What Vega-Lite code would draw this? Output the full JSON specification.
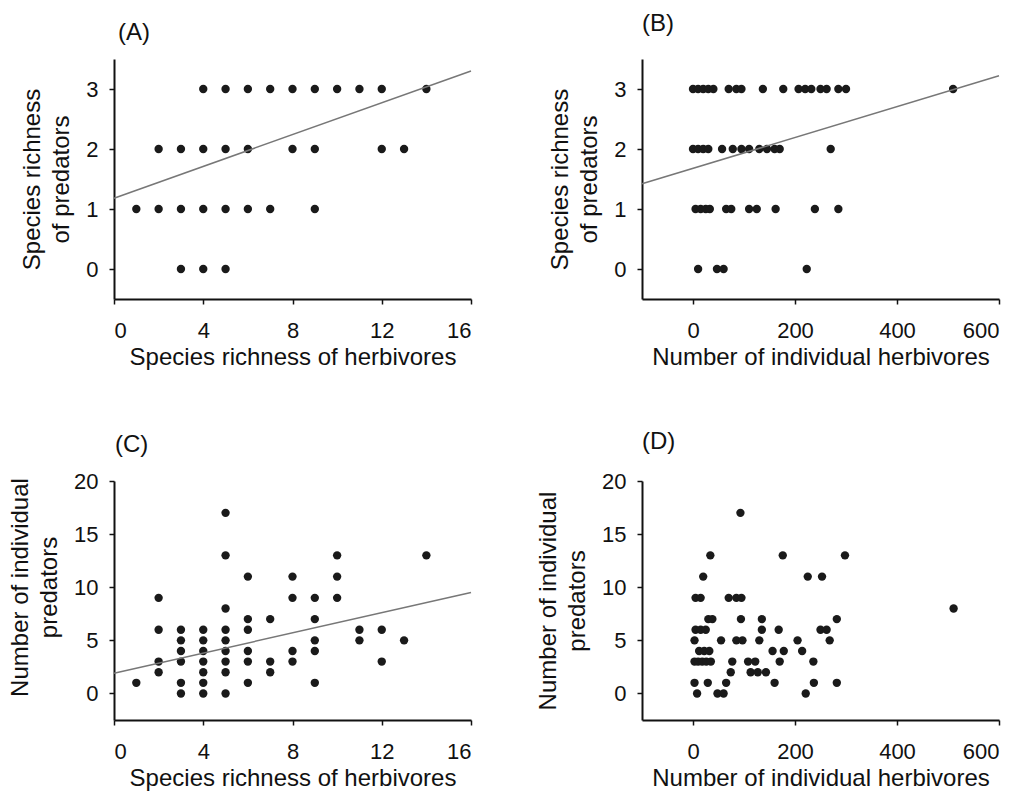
{
  "$schema": "https://vega.github.io/schema/vega-lite/v6.json",
  "padding": {"left": 8, "top": 12, "right": 5, "bottom": 5},
  "background": "white",
  "config": {
    "view": {"stroke": null},
    "font": "Liberation Sans",
    "axis": {
      "grid": false,
      "domainColor": "#111",
      "domainWidth": 2,
      "tickColor": "#111",
      "tickWidth": 1.5,
      "tickSize": 5,
      "labelFont": "Liberation Sans",
      "labelFontSize": 22,
      "labelColor": "#111",
      "titleFont": "Liberation Sans",
      "titleFontSize": 24,
      "titleFontWeight": "normal",
      "titleColor": "#111",
      "titleLineHeight": 29,
      "format": "d"
    },
    "axisX": {"labelPadding": 16, "titlePadding": 4},
    "axisY": {"labelPadding": 11, "titlePadding": 12},
    "title": {"font": "Liberation Sans", "fontSize": 24, "fontWeight": "normal", "color": "#111", "anchor": "start", "frame": "group"}
  },
  "datasets": {
    "a": [
      {"x": 4, "y": 3}, {"x": 5, "y": 3}, {"x": 6, "y": 3}, {"x": 7, "y": 3}, {"x": 8, "y": 3}, {"x": 9, "y": 3}, {"x": 10, "y": 3}, {"x": 11, "y": 3}, {"x": 12, "y": 3}, {"x": 14, "y": 3},
      {"x": 2, "y": 2}, {"x": 3, "y": 2}, {"x": 4, "y": 2}, {"x": 5, "y": 2}, {"x": 6, "y": 2}, {"x": 8, "y": 2}, {"x": 9, "y": 2}, {"x": 12, "y": 2}, {"x": 13, "y": 2},
      {"x": 1, "y": 1}, {"x": 2, "y": 1}, {"x": 3, "y": 1}, {"x": 4, "y": 1}, {"x": 5, "y": 1}, {"x": 6, "y": 1}, {"x": 7, "y": 1}, {"x": 9, "y": 1},
      {"x": 3, "y": 0}, {"x": 4, "y": 0}, {"x": 5, "y": 0}
    ],
    "aLine": [{"x": 0, "y": 1.18}, {"x": 16, "y": 3.3}],
    "b": [
      {"x": 0, "y": 3}, {"x": 10, "y": 3}, {"x": 20, "y": 3}, {"x": 30, "y": 3}, {"x": 40, "y": 3}, {"x": 70, "y": 3}, {"x": 85, "y": 3}, {"x": 95, "y": 3}, {"x": 137, "y": 3}, {"x": 177, "y": 3}, {"x": 207, "y": 3}, {"x": 220, "y": 3}, {"x": 232, "y": 3}, {"x": 250, "y": 3}, {"x": 262, "y": 3}, {"x": 285, "y": 3}, {"x": 300, "y": 3}, {"x": 510, "y": 3},
      {"x": 0, "y": 2}, {"x": 10, "y": 2}, {"x": 20, "y": 2}, {"x": 30, "y": 2}, {"x": 57, "y": 2}, {"x": 78, "y": 2}, {"x": 95, "y": 2}, {"x": 110, "y": 2}, {"x": 130, "y": 2}, {"x": 145, "y": 2}, {"x": 160, "y": 2}, {"x": 170, "y": 2}, {"x": 270, "y": 2},
      {"x": 5, "y": 1}, {"x": 15, "y": 1}, {"x": 25, "y": 1}, {"x": 33, "y": 1}, {"x": 65, "y": 1}, {"x": 75, "y": 1}, {"x": 110, "y": 1}, {"x": 125, "y": 1}, {"x": 162, "y": 1}, {"x": 239, "y": 1}, {"x": 285, "y": 1},
      {"x": 10, "y": 0}, {"x": 47, "y": 0}, {"x": 60, "y": 0}, {"x": 223, "y": 0}
    ],
    "bLine": [{"x": -100, "y": 1.42}, {"x": 600, "y": 3.22}],
    "c": [
      {"x": 1, "y": 1},
      {"x": 2, "y": 9}, {"x": 2, "y": 6}, {"x": 2, "y": 3}, {"x": 2, "y": 2},
      {"x": 3, "y": 6}, {"x": 3, "y": 5}, {"x": 3, "y": 4}, {"x": 3, "y": 3}, {"x": 3, "y": 1}, {"x": 3, "y": 0},
      {"x": 4, "y": 6}, {"x": 4, "y": 5}, {"x": 4, "y": 4}, {"x": 4, "y": 3}, {"x": 4, "y": 2}, {"x": 4, "y": 1}, {"x": 4, "y": 0},
      {"x": 5, "y": 17}, {"x": 5, "y": 13}, {"x": 5, "y": 8}, {"x": 5, "y": 6}, {"x": 5, "y": 5}, {"x": 5, "y": 4}, {"x": 5, "y": 3}, {"x": 5, "y": 2}, {"x": 5, "y": 0},
      {"x": 6, "y": 11}, {"x": 6, "y": 7}, {"x": 6, "y": 6}, {"x": 6, "y": 4}, {"x": 6, "y": 3}, {"x": 6, "y": 1},
      {"x": 7, "y": 7}, {"x": 7, "y": 3}, {"x": 7, "y": 2},
      {"x": 8, "y": 11}, {"x": 8, "y": 9}, {"x": 8, "y": 4}, {"x": 8, "y": 3},
      {"x": 9, "y": 9}, {"x": 9, "y": 7}, {"x": 9, "y": 5}, {"x": 9, "y": 4}, {"x": 9, "y": 1},
      {"x": 10, "y": 13}, {"x": 10, "y": 11}, {"x": 10, "y": 9},
      {"x": 11, "y": 6}, {"x": 11, "y": 5},
      {"x": 12, "y": 6}, {"x": 12, "y": 3},
      {"x": 13, "y": 5},
      {"x": 14, "y": 13}
    ],
    "cLine": [{"x": 0, "y": 1.9}, {"x": 16, "y": 9.5}],
    "d": [
      {"x": 93, "y": 17},
      {"x": 34, "y": 13}, {"x": 176, "y": 13}, {"x": 298, "y": 13},
      {"x": 20, "y": 11}, {"x": 225, "y": 11}, {"x": 253, "y": 11},
      {"x": 5, "y": 9}, {"x": 15, "y": 9}, {"x": 70, "y": 9}, {"x": 85, "y": 9}, {"x": 95, "y": 9},
      {"x": 511, "y": 8},
      {"x": 30, "y": 7}, {"x": 38, "y": 7}, {"x": 94, "y": 7}, {"x": 135, "y": 7}, {"x": 282, "y": 7},
      {"x": 5, "y": 6}, {"x": 15, "y": 6}, {"x": 25, "y": 6}, {"x": 135, "y": 6}, {"x": 168, "y": 6}, {"x": 250, "y": 6}, {"x": 262, "y": 6},
      {"x": 3, "y": 5}, {"x": 55, "y": 5}, {"x": 85, "y": 5}, {"x": 97, "y": 5}, {"x": 130, "y": 5}, {"x": 205, "y": 5}, {"x": 268, "y": 5},
      {"x": 12, "y": 4}, {"x": 22, "y": 4}, {"x": 32, "y": 4}, {"x": 156, "y": 4}, {"x": 178, "y": 4}, {"x": 214, "y": 4},
      {"x": 3, "y": 3}, {"x": 10, "y": 3}, {"x": 18, "y": 3}, {"x": 26, "y": 3}, {"x": 35, "y": 3}, {"x": 77, "y": 3}, {"x": 108, "y": 3}, {"x": 122, "y": 3}, {"x": 170, "y": 3}, {"x": 236, "y": 3},
      {"x": 74, "y": 2}, {"x": 113, "y": 2}, {"x": 127, "y": 2}, {"x": 143, "y": 2},
      {"x": 3, "y": 1}, {"x": 29, "y": 1}, {"x": 65, "y": 1}, {"x": 160, "y": 1}, {"x": 237, "y": 1}, {"x": 282, "y": 1},
      {"x": 8, "y": 0}, {"x": 48, "y": 0}, {"x": 60, "y": 0}, {"x": 221, "y": 0}
    ]
  },
  "columns": 2,
  "bounds": "flush",
  "spacing": {"row": 182, "column": 171},
  "concat": [
    {
      "width": 357, "height": 240,
      "title": {"text": "(A)", "offset": 14, "dx": 4},
      "layer": [
        {
          "data": {"name": "a"},
          "mark": {"type": "circle", "size": 70, "color": "#1a1a1a", "opacity": 1},
          "encoding": {
            "x": {"field": "x", "type": "quantitative", "scale": {"domain": [0, 16], "nice": false, "zero": false}, "axis": {"values": [0, 4, 8, 12, 16], "title": "Species richness of herbivores"}},
            "y": {"field": "y", "type": "quantitative", "scale": {"domain": [-0.5, 3.5], "nice": false, "zero": false}, "axis": {"values": [0, 1, 2, 3], "title": ["Species richness", "of predators"]}}
          }
        },
        {
          "data": {"name": "aLine"},
          "mark": {"type": "line", "color": "#777", "strokeWidth": 1.5},
          "encoding": {
            "x": {"field": "x", "type": "quantitative", "scale": {"domain": [0, 16], "nice": false, "zero": false}},
            "y": {"field": "y", "type": "quantitative", "scale": {"domain": [-0.5, 3.5], "nice": false, "zero": false}}
          }
        }
      ]
    },
    {
      "width": 357, "height": 240,
      "title": {"text": "(B)", "offset": 23, "dx": 0},
      "layer": [
        {
          "data": {"name": "b"},
          "mark": {"type": "circle", "size": 70, "color": "#1a1a1a", "opacity": 1},
          "encoding": {
            "x": {"field": "x", "type": "quantitative", "scale": {"domain": [-100, 600], "nice": false, "zero": false}, "axis": {"values": [0, 200, 400, 600], "title": "Number of individual herbivores"}},
            "y": {"field": "y", "type": "quantitative", "scale": {"domain": [-0.5, 3.5], "nice": false, "zero": false}, "axis": {"values": [0, 1, 2, 3], "title": ["Species richness", "of predators"]}}
          }
        },
        {
          "data": {"name": "bLine"},
          "mark": {"type": "line", "color": "#777", "strokeWidth": 1.5},
          "encoding": {
            "x": {"field": "x", "type": "quantitative", "scale": {"domain": [-100, 600], "nice": false, "zero": false}},
            "y": {"field": "y", "type": "quantitative", "scale": {"domain": [-0.5, 3.5], "nice": false, "zero": false}}
          }
        }
      ]
    },
    {
      "width": 357, "height": 239,
      "title": {"text": "(C)", "offset": 13, "dx": 1},
      "layer": [
        {
          "data": {"name": "c"},
          "mark": {"type": "circle", "size": 70, "color": "#1a1a1a", "opacity": 1},
          "encoding": {
            "x": {"field": "x", "type": "quantitative", "scale": {"domain": [0, 16], "nice": false, "zero": false}, "axis": {"values": [0, 4, 8, 12, 16], "title": "Species richness of herbivores"}},
            "y": {"field": "y", "type": "quantitative", "scale": {"domain": [-2.5, 20], "nice": false, "zero": false}, "axis": {"values": [0, 5, 10, 15, 20], "title": ["Number of individual", "predators"], "titleY": 106}}
          }
        },
        {
          "data": {"name": "cLine"},
          "mark": {"type": "line", "color": "#777", "strokeWidth": 1.5},
          "encoding": {
            "x": {"field": "x", "type": "quantitative", "scale": {"domain": [0, 16], "nice": false, "zero": false}},
            "y": {"field": "y", "type": "quantitative", "scale": {"domain": [-2.5, 20], "nice": false, "zero": false}}
          }
        }
      ]
    },
    {
      "width": 357, "height": 239,
      "title": {"text": "(D)", "offset": 16, "dx": 0},
      "data": {"name": "d"},
      "mark": {"type": "circle", "size": 70, "color": "#1a1a1a", "opacity": 1},
      "encoding": {
        "x": {"field": "x", "type": "quantitative", "scale": {"domain": [-100, 600], "nice": false, "zero": false}, "axis": {"values": [0, 200, 400, 600], "title": "Number of individual herbivores"}},
        "y": {"field": "y", "type": "quantitative", "scale": {"domain": [-2.5, 20], "nice": false, "zero": false}, "axis": {"values": [0, 5, 10, 15, 20], "title": ["Number of individual", "predators"]}}
      }
    }
  ]
}
